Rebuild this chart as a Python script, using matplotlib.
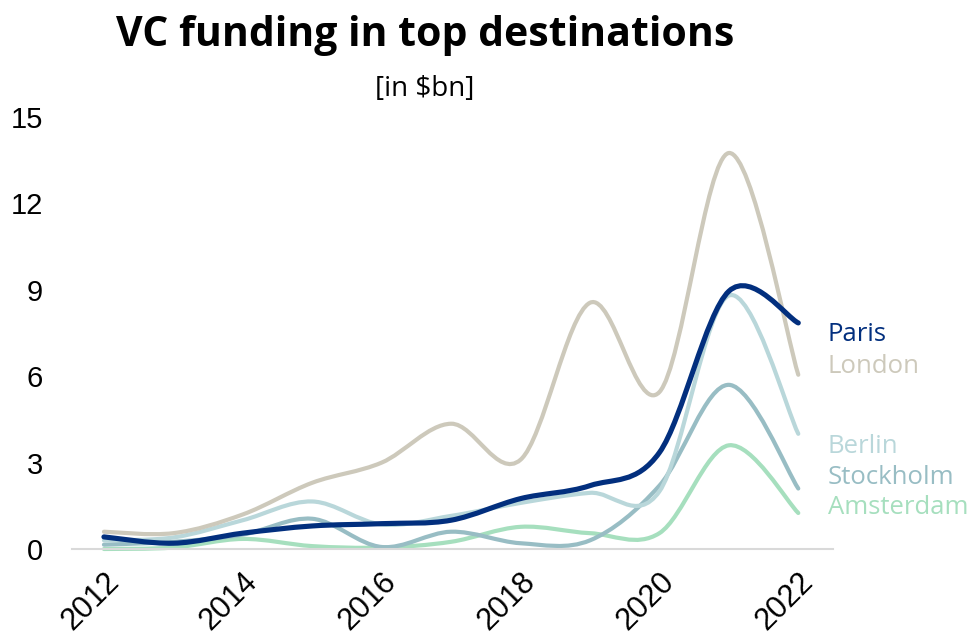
import matplotlib
matplotlib.use("Agg")
import matplotlib.pyplot as plt
from matplotlib.path import Path
from matplotlib.patches import PathPatch

years = [2012, 2013, 2014, 2015, 2016, 2017, 2018, 2019, 2020, 2021, 2022]

paris = [0.42, 0.2, 0.55, 0.8, 0.88, 1.0, 1.75, 2.2, 3.35, 8.95, 7.85]
london = [0.6, 0.55, 1.2, 2.3, 3.0, 4.35, 3.1, 8.55, 5.45, 13.75, 6.05]
berlin = [0.3, 0.4, 1.0, 1.65, 0.85, 1.15, 1.6, 1.95, 2.0, 8.8, 4.0]
stockholm = [0.15, 0.25, 0.5, 1.05, 0.07, 0.6, 0.2, 0.3, 2.2, 5.7, 2.1]
amsterdam = [0.0, 0.05, 0.35, 0.1, 0.05, 0.25, 0.77, 0.55, 0.55, 3.6, 1.25]

cities = ["Amsterdam", "Stockholm", "Berlin", "London", "Paris"]
series = [amsterdam, stockholm, berlin, london, paris]
colors = ["#a6dfbe", "#98bdc4", "#b9d7da", "#cdc9bb", "#022f7e"]
widths = [3.0, 3.0, 3.0, 3.0, 3.7]
# baseline height of the end labels, in data units
label_y = {"Paris": 7.22, "London": 6.11, "Berlin": 3.33, "Stockholm": 2.26, "Amsterdam": 1.22}


# smooth line through the points, like excel's smoothed line chart
def smooth_path(xs, ys):
    pts = list(zip(xs, ys))
    verts = [pts[0]]
    codes = [Path.MOVETO]
    for i in range(len(pts) - 1):
        p0 = pts[i - 1] if i > 0 else pts[i]
        p1 = pts[i]
        p2 = pts[i + 1]
        p3 = pts[i + 2] if i + 2 < len(pts) else pts[i + 1]
        c1 = (p1[0] + (p2[0] - p0[0]) / 6, p1[1] + (p2[1] - p0[1]) / 6)
        c2 = (p2[0] - (p3[0] - p1[0]) / 6, p2[1] - (p3[1] - p1[1]) / 6)
        verts += [c1, c2, p2]
        codes += [Path.CURVE4] * 3
    return Path(verts, codes)


fig = plt.figure(figsize=(9.74, 6.39), dpi=100)
ax = fig.add_axes([72 / 974, 1 - 549 / 639, (833 - 72) / 974, (549 - 117) / 639])

for name, vals, c, lw in zip(cities, series, colors, widths):
    patch = PathPatch(smooth_path(years, vals), facecolor="none", edgecolor=c,
                      lw=lw, capstyle="round", joinstyle="round", clip_on=False)
    ax.add_patch(patch)
    ax.text(0.993, label_y[name], name, transform=ax.get_yaxis_transform(),
            color=c, fontsize=18.5, family="Open Sans", va="baseline", ha="left")

ax.set_xlim(2011.54, 2022.5)
ax.set_ylim(0, 15)
ax.set_yticks([0, 3, 6, 9, 12, 15])
ax.set_xticks([2012, 2014, 2016, 2018, 2020, 2022])

for side in ["top", "right", "left"]:
    ax.spines[side].set_visible(False)
ax.spines["bottom"].set_color("#d9d9d9")
ax.spines["bottom"].set_linewidth(1.5)
ax.tick_params(axis="both", length=0, labelsize=21)
ax.tick_params(axis="y", pad=21)
ax.tick_params(axis="x", pad=13)
for lab in ax.get_yticklabels() + ax.get_xticklabels():
    lab.set_family("Liberation Sans")
for lab in ax.get_xticklabels():
    lab.set_rotation(45)
    lab.set_ha("right")
    lab.set_rotation_mode("anchor")
    lab.set_fontsize(22)

fig.text(425 / 974, 1 - 35 / 639, "VC funding in top destinations", ha="center", va="center",
         fontsize=29.5, fontweight="bold", family="Open Sans")
fig.text(425 / 974, 1 - 89 / 639, "[in $bn]", ha="center", va="center",
         fontsize=20, family="Open Sans")

fig.savefig("out.png", dpi=100)
